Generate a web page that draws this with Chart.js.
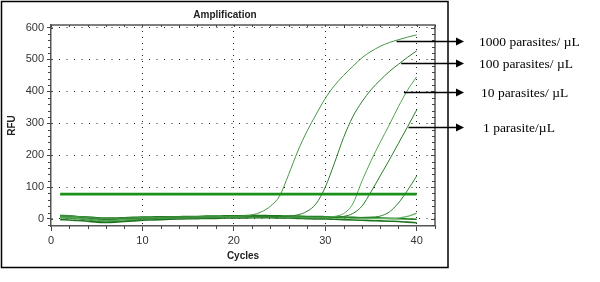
<!DOCTYPE html>
<html><head><meta charset="utf-8">
<script src="https://cdn.jsdelivr.net/npm/chart.js@4"></script>
<style>html,body{margin:0;padding:0;background:#fff;}#wrap{width:600px;height:282px;position:relative;}</style>
</head><body><div id="wrap"><canvas id="c" width="600" height="282"></canvas></div>
<script>
// ---- data ----
const cycles = [1,2,3,4,5,6,7,8,9,10,11,12,13,14,15,16,17,18,19,20,21,22,23,24,25,26,27,28,29,30,31,32,33,34,35,36,37,38,39,40];
const rfu1000 = [8,9,7,5,3,2,2,3,4,5,5,5,6,6,6,7,7,7,8,8, 9,13,22,40,72,140,213,275,328,378,418,450,478,505,525,541,553,562,570,577];
const rfu100  = [10,9,6,3,0,-2,-1,1,2,3,3,4,4,5,5,5,6,6,7,7, 7,8,8,8,8,9,13,24,48,100,175,255,320,367,405,435,462,485,507,527];
const rfu10   = [5,4,2,-1,-4,-6,-5,-3,-1,1,2,2,3,3,4,4,5,5,6,6, 6,6,7,7,7,6,6,5,5,6,8,17,47,118,182,240,295,352,404,446];
const rfu1    = [3,2,0,-3,-7,-9,-8,-6,-3,-1,0,1,1,2,2,3,3,4,4,4, 4,5,5,5,4,4,4,3,3,3,5,8,17,40,85,135,185,237,289,342];
const rfuLate = [12,11,8,4,1,-1,0,2,3,5,5,6,6,7,7,7,8,8,8,9, 9,9,9,8,8,8,7,7,6,6,5,5,5,5,6,9,22,50,90,135];
const rfuNeg1 = [6,5,3,0,-3,-5,-4,-2,0,2,2,3,3,4,4,4,5,5,5,6, 6,6,6,6,5,5,5,4,4,4,3,3,2,2,2,1,1,3,8,18];
const rfuNeg2 = [-2,-3,-5,-7,-10,-11,-10,-8,-6,-4,-3,-2,-1,0,1,1,2,2,3,3, 3,4,4,4,3,3,2,1,0,0,-1,-2,-3,-4,-5,-6,-7,-8,-10,-12];
const rfuNeg3 = [9,8,7,6,4,3,3,4,5,6,6,7,7,7,8,8,9,9,10,10, 10,11,11,10,10,9,9,8,8,7,6,6,5,4,4,3,2,1,0,-1];
const thresholdRFU = 78;
const thresholdCycles = [1, 40];
const xTickValues = [0,10,20,30,40];
const yTickValues = [0,100,200,300,400,500,600];
const noteLabels = ["1000 parasites/ \u00B5L", "100 parasites/ \u00B5L", "10 parasites/ \u00B5L", "1 parasite/\u00B5L"];
const noteCycle = [37.8, 38.3, 38.6, 39.1];
const noteRFU = [558, 489, 398, 288];

const series = [rfu1000, rfu100, rfu10, rfu1, rfuLate, rfuNeg1, rfuNeg2, rfuNeg3];
const seriesColors = ['rgb(70,150,70)','rgb(45,125,45)','rgb(80,165,80)','rgb(40,125,40)','rgb(45,130,45)','rgb(100,180,100)','rgb(30,115,30)','rgb(20,120,20)'];
const seriesWidths = [1,1,1,1,1,1.3,1.6,1.6];

const pts = vals => cycles.map((c, i) => ({x: c, y: vals[i]}));
const datasets = [{
  data: thresholdCycles.map(c => ({x: c, y: thresholdRFU})),
  borderColor: 'rgb(25,145,25)', borderWidth: 2.6, tension: 0
}].concat(series.map((s, i) => ({
  data: pts(s), borderColor: seriesColors[i], borderWidth: seriesWidths[i], cubicInterpolationMode: 'monotone'
})));

const SANS = "'Liberation Sans', Arial, sans-serif";
const SERIF = "'Liberation Serif', 'Times New Roman', serif";

const deco = {
  id: 'deco',
  afterDraw(chart) {
    const {ctx, chartArea: a, scales: {x, y}} = chart;
    ctx.save();
    ctx.strokeStyle = '#000'; ctx.lineWidth = 1.5;
    ctx.strokeRect(1.5, 1.5, 446.5, 266);
    ctx.strokeStyle = '#555'; ctx.lineWidth = 1.5;
    ctx.beginPath();
    ctx.moveTo(a.left, a.top); ctx.lineTo(a.right, a.top); ctx.lineTo(a.right, a.bottom);
    ctx.stroke();
    ctx.lineWidth = 1; ctx.strokeStyle = '#444';
    ctx.beginPath();
    for (let c = 0; c <= 42; c += 2) {
      const px = Math.round(x.getPixelForValue(c)) + 0.5;
      if (c % 10 !== 0) { ctx.moveTo(px, a.bottom); ctx.lineTo(px, a.bottom + 3); }
      ctx.moveTo(px, a.top); ctx.lineTo(px, a.top + 2);
    }
    for (let v = -20; v <= 600; v += 20) {
      const py = Math.round(y.getPixelForValue(v)) + 0.5;
      const major = v % 100 === 0;
      if (!major) { ctx.moveTo(a.left - 3, py); ctx.lineTo(a.left, py); }
      else { ctx.moveTo(a.left, py); ctx.lineTo(a.left + 2, py); }
      ctx.moveTo(a.right - (major ? 4 : 3), py); ctx.lineTo(a.right, py);
    }
    ctx.stroke();
    ctx.fillStyle = '#222';
    ctx.font = 'bold 10px ' + SANS;
    ctx.textAlign = 'center'; ctx.textBaseline = 'middle';
    ctx.fillText('Amplification', 225, 15);
    ctx.strokeStyle = '#000'; ctx.fillStyle = '#000'; ctx.lineWidth = 1.6;
    ctx.font = '13.5px ' + SERIF;
    ctx.textAlign = 'left';
    const tipX = 464;
    const textX = [479, 479, 481, 483];
    noteLabels.forEach((t, i) => {
      const sx = x.getPixelForValue(noteCycle[i]);
      const sy = Math.round(y.getPixelForValue(noteRFU[i])) + 0.5;
      ctx.beginPath(); ctx.moveTo(sx, sy); ctx.lineTo(tipX - 6, sy); ctx.stroke();
      ctx.beginPath(); ctx.moveTo(tipX, sy); ctx.lineTo(tipX - 8, sy - 4); ctx.lineTo(tipX - 8, sy + 4); ctx.closePath(); ctx.fill();
      ctx.fillText(t, textX[i], sy + 1);
    });
    ctx.restore();
  }
};

new Chart(document.getElementById('c'), {
  type: 'line',
  data: {datasets},
  plugins: [deco],
  options: {
    responsive: false, animation: false, devicePixelRatio: 1,
    layout: {padding: {left: 0, top: 25, right: 165, bottom: 0}},
    plugins: {legend: {display: false}, tooltip: {enabled: false}, title: {display: false}},
    elements: {point: {radius: 0}},
    scales: {
      x: {
        type: 'linear', min: 0, max: 42,
        afterBuildTicks: s => { s.ticks = xTickValues.map(v => ({value: v})); },
        afterFit: s => { s.height = 56; },
        ticks: {font: {family: SANS, size: 11}, color: '#333', padding: 3, maxRotation: 0},
        grid: {color: c => (c.tick && c.tick.value === 0) ? 'rgba(0,0,0,0)' : '#222', lineWidth: 1, tickLength: 5, tickColor: '#444'},
        border: {display: true, color: '#555', width: 1.5, dash: [1, 5]},
        title: {display: true, text: 'Cycles', font: {family: SANS, size: 10, weight: 'bold'}, color: '#222', padding: {top: 0, bottom: 20}}
      },
      y: {
        type: 'linear', min: -22, max: 608,
        afterBuildTicks: s => { s.ticks = yTickValues.map(v => ({value: v})); },
        afterFit: s => { s.width = 51; },
        ticks: {font: {family: SANS, size: 11}, color: '#333', padding: 3},
        grid: {color: '#222', lineWidth: 1, tickLength: 4, tickColor: '#444'},
        border: {display: true, color: '#555', width: 1.5, dash: [1, 6.5]},
        title: {display: true, text: 'RFU', font: {family: SANS, size: 10, weight: 'bold'}, color: '#222', padding: {top: 6, bottom: 0}}
      }
    }
  }
});
</script></body></html>
